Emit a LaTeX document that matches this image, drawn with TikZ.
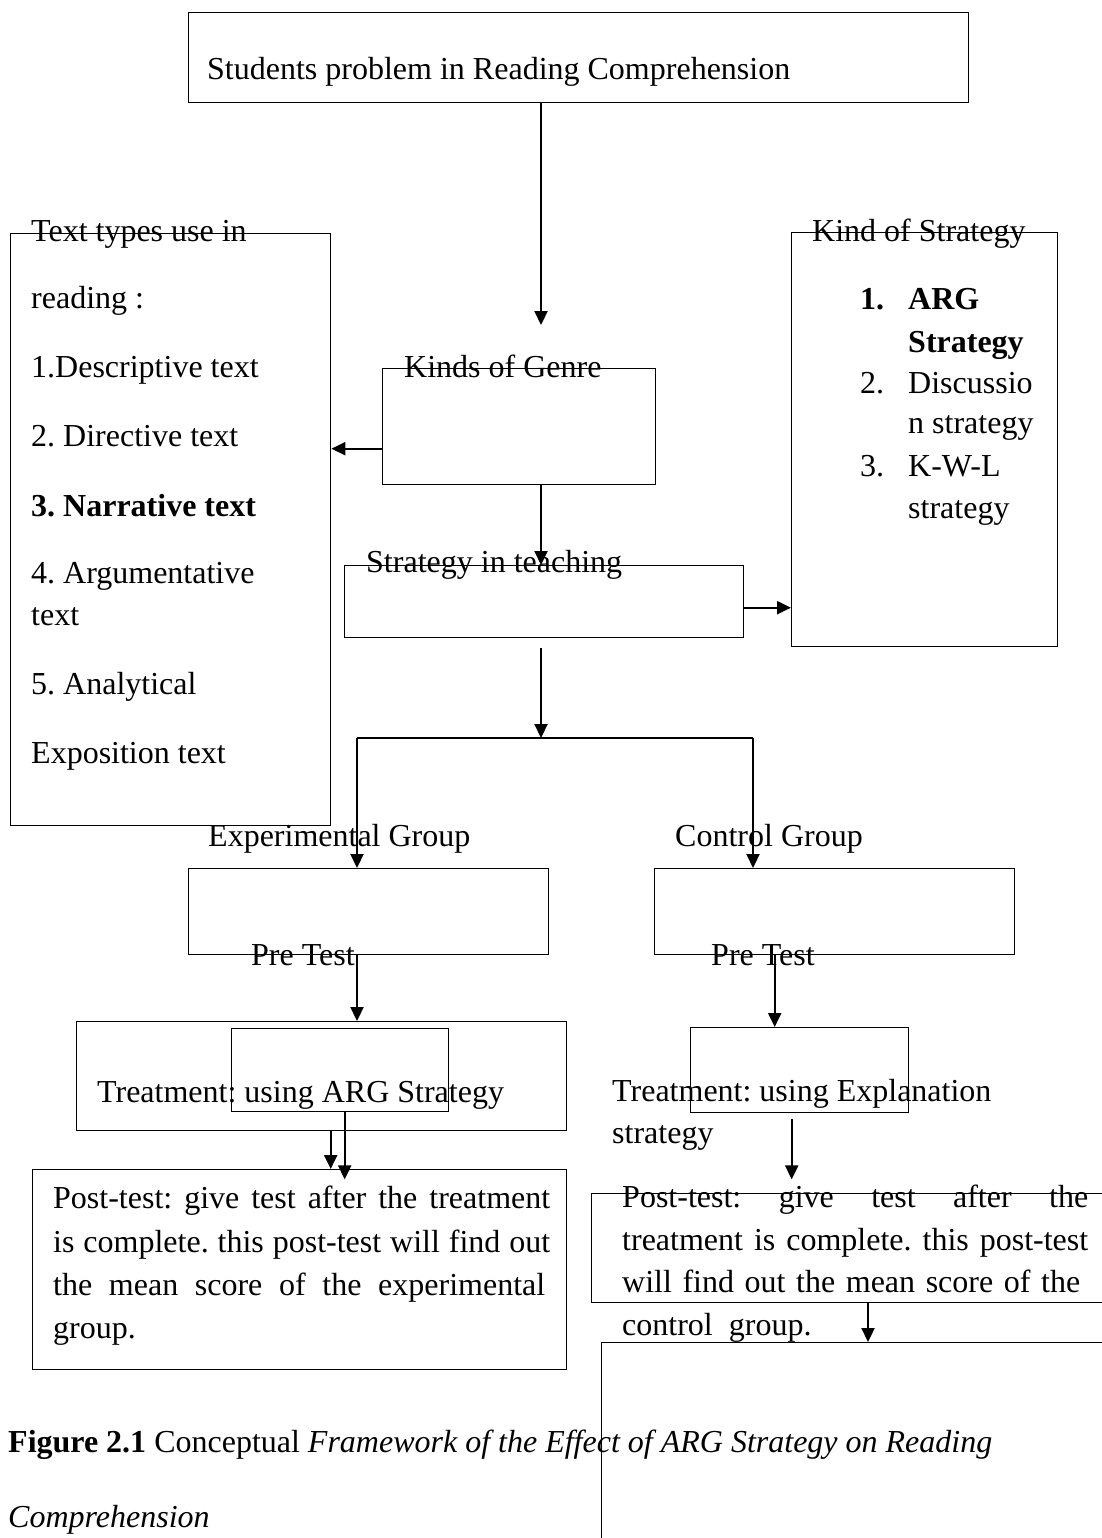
\documentclass[tikz,border=0pt]{standalone}
\usepackage{fontspec}
\setmainfont{Liberation Serif}
\usetikzlibrary{arrows.meta,calc}

\tikzset{
  frame/.style={draw, line width=1.4pt, inner sep=0pt, anchor=north west},
  flow/.style={line width=2.2pt, -{Triangle[length=14pt,width=13pt]}},
  wire/.style={line width=1.5pt},
  txt/.style={anchor=base west, inner sep=0pt},
}

\begin{document}
\frenchspacing
\begin{tikzpicture}[x=1pt, y=-1pt, font=\fontsize{32}{42}\selectfont\frenchspacing]
		\useasboundingbox (0,0) rectangle (1101,1538);
		% boxes
		\node[frame, minimum width=780pt, minimum height=90pt] (problem) at (188,12) {};
		\node[frame, minimum width=320pt, minimum height=592pt] (texttypes) at (10,233) {};
		\node[frame, minimum width=266pt, minimum height=414pt] (kinds) at (791,232) {};
		\node[frame, minimum width=273pt, minimum height=116pt] (genre) at (382,368) {};
		\node[frame, minimum width=399pt, minimum height=72pt] (teaching) at (344,565) {};
		\node[frame, minimum width=360pt, minimum height=86pt] (expgroup) at (188,868) {};
		\node[frame, minimum width=360pt, minimum height=86pt] (ctrlgroup) at (654,868) {};
		\node[frame, minimum width=490pt, minimum height=109pt] (exptreat) at (76,1021) {};
		\node[frame, minimum width=217pt, minimum height=83pt] (exptreatin) at (231,1028) {};
		\node[frame, minimum width=534pt, minimum height=200pt] (exppost) at (32,1169) {};
		\node[frame, minimum width=218pt, minimum height=85pt] (ctrltreat) at (690,1027) {};
		\node[frame, minimum width=600pt, minimum height=109pt] (ctrlpost) at (591,1193) {};
		\node[frame, minimum width=600pt, minimum height=300pt] (result) at (601,1342) {};

		% texts
		\node[txt] (problemtxt) at (207,80) {Students problem in Reading Comprehension};
		\node[txt] (tt1) at (31,241) {Text types use in};
		\node[txt] (tt2) at (31,308) {reading :};
		\node[txt] (tt3) at (31,377) {1.Descriptive text};
		\node[txt] (tt4) at (31,446) {2. Directive text};
		\node[txt] (tt5) at (31,516) {\textbf{3. Narrative text}};
		\node[txt] (tt6) at (31,583) {4. Argumentative};
		\node[txt] (tt7) at (31,625) {text};
		\node[txt] (tt8) at (31,694) {5. Analytical};
		\node[txt] (tt9) at (31,763) {Exposition text};
		\node[txt] (kindstxt) at (812,242) {Kind of Strategy};
		\node[txt] (k1) at (860,309) {\textbf{1.}};
		\node[txt] (k1a) at (908,309) {\textbf{ARG}};
		\node[txt] (k1b) at (908,352) {\textbf{Strategy}};
		\node[txt] (k2) at (860,393) {2.};
		\node[txt] (k2a) at (908,393) {Discussio};
		\node[txt] (k2b) at (908,433) {n strategy};
		\node[txt] (k3) at (860,476) {3.};
		\node[txt] (k3a) at (908,476) {K-W-L};
		\node[txt] (k3b) at (908,518) {strategy};
		\node[txt] (genretxt) at (404,377) {Kinds of Genre};
		\node[txt] (teachingtxt) at (366,572) {Strategy in teaching};
		\node[txt] (explabel) at (208,846) {Experimental Group};
		\node[txt] (ctrllabel) at (675,846) {Control Group};
		\node[txt] (exppre) at (251,965) {Pre Test};
		\node[txt] (ctrlpre) at (711,965) {Pre Test};
		\node[txt] (exptreattxt) at (97,1102) {Treatment: using ARG Strategy};
		\node[txt] (ctrltreat1) at (612,1101) {Treatment: using Explanation};
		\node[txt] (ctrltreat2) at (612,1143) {strategy};
		\node[txt] (ep1) at (53,1208) {\makebox[497pt][s]{Post-test: give test after the treatment}};
		\node[txt] (ep2) at (53,1252) {\makebox[497pt][s]{is complete. this post-test will find out}};
		\node[txt] (ep3) at (53,1295) {\makebox[492pt][s]{the mean score of the experimental}};
		\node[txt] (ep4) at (53,1338) {group.};
		\node[txt] (cp1) at (622,1207) {\makebox[466pt][s]{Post-test: give test after the}};
		\node[txt] (cp2) at (622,1250) {\makebox[466pt][s]{treatment is complete. this post-test}};
		\node[txt] (cp3) at (622,1292) {\makebox[458pt][s]{will find out the mean score of the}};
		\node[txt] (cp4) at (622,1335) {control\ \ group.};
		\node[txt] (caption1) at (8,1452) {\textbf{Figure 2.1} Conceptual \textit{Framework of the Effect of ARG Strategy on Reading}};
		\node[txt] (caption2) at (8,1527) {\textit{Comprehension}};

		% arrows
		\coordinate (genretop) at (541,325);
		\coordinate (split) at (541,738);
		\coordinate (expfork) at (357,738);
		\coordinate (ctrlfork) at (753,738);
		\draw[flow] (problem.south -| genretop) -- (genretop);
		\draw[flow] ([yshift=-22pt]genre.west) -- ([yshift=-22pt]genre.west -| texttypes.east);
		\draw[flow] (genre.south -| genretop) -- (teaching.north -| genretop);
		\draw[flow] ([yshift=-6pt]teaching.east) -- ([yshift=-6pt]teaching.east -| kinds.west);
		\draw[flow] ([yshift=-10pt]teaching.south -| split) -- (split);
		\draw[wire] (expfork) -- (ctrlfork);
		\draw[flow] (expfork) -- (expfork |- expgroup.north);
		\draw[flow] (ctrlfork) -- (ctrlfork |- ctrlgroup.north);
		% experimental side
		\draw[flow] (expgroup.south -| expfork) -- (exptreat.north -| expfork);
		\draw[flow] ([xshift=9pt]exptreat.south) -- ([xshift=9pt]exptreat.south |- exppost.north);
		\draw[flow] ([xshift=4.5pt]exptreatin.south) -- ++(0,67);
		% control side
		\draw[flow] ([xshift=-25pt]ctrltreat.north |- ctrlgroup.south) -- ([xshift=-25pt]ctrltreat.north);
		\draw[flow] ([xshift=-8pt,yshift=-6pt]ctrltreat.south) -- ++(0,60);
		\draw[flow] ([xshift=277pt]ctrlpost.south west) -- ([xshift=277pt]ctrlpost.south west |- result.north);
\end{tikzpicture}
\end{document}
